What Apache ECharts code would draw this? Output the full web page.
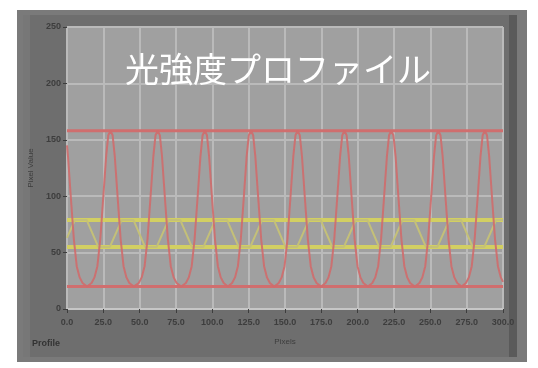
<!DOCTYPE html>
<html>
<head>
<meta charset="utf-8">
<script src="https://cdn.jsdelivr.net/npm/echarts@6/dist/echarts.min.js"></script>
<style>
  html, body { margin: 0; padding: 0; background: #ffffff; }
  #chart { width: 538px; height: 368px; }
</style>
</head>
<body>
<div id="chart"></div>
<script>
// Axis ranges and tick spacing
const xMin = 0, xMax = 300, xStep = 25;
const yMin = 0, yMax = 250, yStep = 50;

// Red intensity profile (position, level)
const redX = [
  0, 0.7, 2.7, 4.7, 6.7, 8.7, 10.7, 13.8,
  16.9, 18.9, 20.9, 22.9, 24.9, 26.9, 28.4, 29.9, 31.4, 32.9, 34.9, 36.9, 38.9, 40.9, 42.9, 46.1,
  49.4, 51.4, 53.4, 55.4, 57.4, 59.4, 60.9, 62.4, 63.9, 65.4, 67.4, 69.4, 71.4, 73.4, 75.4, 78.6,
  81.8, 83.8, 85.8, 87.8, 89.8, 91.8, 93.3, 94.8, 96.3, 97.8, 99.8, 101.8, 103.8, 105.8, 107.8, 110.7,
  113.6, 115.6, 117.6, 119.6, 121.6, 123.6, 125.1, 126.6, 128.1, 129.6, 131.6, 133.6, 135.6, 137.6, 139.6, 142.6,
  145.7, 147.7, 149.7, 151.7, 153.7, 155.7, 157.2, 158.7, 160.2, 161.7, 163.7, 165.7, 167.7, 169.7, 171.7, 174.8,
  177.9, 179.9, 181.9, 183.9, 185.9, 187.9, 189.4, 190.9, 192.4, 193.9, 195.9, 197.9, 199.9, 201.9, 203.9, 207.0,
  210.1, 212.1, 214.1, 216.1, 218.1, 220.1, 221.6, 223.1, 224.6, 226.1, 228.1, 230.1, 232.1, 234.1, 236.1, 239.3,
  242.5, 244.5, 246.5, 248.5, 250.5, 252.5, 254.0, 255.5, 257.0, 258.5, 260.5, 262.5, 264.5, 266.5, 268.5, 271.5,
  274.5, 276.5, 278.5, 280.5, 282.5, 284.5, 286.0, 287.5, 289.0, 290.5, 292.5, 294.5, 296.5, 298.5, 300
];
const redY = [
  145, 135, 98, 62, 38, 28, 23, 20,
  23, 28, 38, 62, 98, 135, 154, 158, 154, 135, 98, 62, 38, 28, 23, 20,
  23, 28, 38, 62, 98, 135, 154, 158, 154, 135, 98, 62, 38, 28, 23, 20,
  23, 28, 38, 62, 98, 135, 154, 158, 154, 135, 98, 62, 38, 28, 23, 20,
  23, 28, 38, 62, 98, 135, 154, 158, 154, 135, 98, 62, 38, 28, 23, 20,
  23, 28, 38, 62, 98, 135, 154, 158, 154, 135, 98, 62, 38, 28, 23, 20,
  23, 28, 38, 62, 98, 135, 154, 158, 154, 135, 98, 62, 38, 28, 23, 20,
  23, 28, 38, 62, 98, 135, 154, 158, 154, 135, 98, 62, 38, 28, 23, 20,
  23, 28, 38, 62, 98, 135, 154, 158, 154, 135, 98, 62, 38, 28, 23, 20,
  23, 28, 38, 62, 98, 135, 154, 158, 154, 135, 98, 62, 38, 28, 24
];

// Yellow intensity profile (position, level)
const yellowX = [
  0, 5.5, 13.5, 21.5, 29.5, 37.7, 45.7, 53.7, 61.7, 69.9, 77.9, 85.9, 93.9,
  102.1, 110.1, 118.1, 126.1, 134.3, 142.3, 150.3, 158.3, 166.5, 174.5, 182.5, 190.5,
  198.7, 206.7, 214.7, 222.7, 230.9, 238.9, 246.9, 254.9, 263.1, 271.1, 279.1, 287.1, 295.3, 300
];
const yellowY = [
  63, 79, 79, 55, 55, 79, 79, 55, 55, 79, 79, 55, 55,
  79, 79, 55, 55, 79, 79, 55, 55, 79, 79, 55, 55,
  79, 79, 55, 55, 79, 79, 55, 55, 79, 79, 55, 55, 79, 79
];

// Max / min level lines of each profile
const redLevels = [158, 20];
const yellowLevels = [79, 55];

const titleText = '光強度プロファイル';
const xName = 'Pixels';
const yName = 'Pixel Value';
const plotName = 'Profile';

const zip = (xs, ys) => xs.map((x, i) => [x, ys[i]]);
const levelLine = (v) => [[xMin, v], [xMax, v]];

const tickFont = { fontFamily: 'Liberation Sans', fontSize: 9, fontWeight: 'bold', color: '#3d3d3d' };

const series = [];
yellowLevels.forEach((v) => series.push({
  type: 'line', data: levelLine(v), showSymbol: false, silent: true,
  lineStyle: { color: '#d2cf62', width: 4 }
}));
series.push({
  type: 'line', data: zip(yellowX, yellowY), showSymbol: false,
  lineStyle: { color: '#c4c078', width: 2 }
});
redLevels.forEach((v) => series.push({
  type: 'line', data: levelLine(v), showSymbol: false, silent: true,
  lineStyle: { color: '#d06e6e', width: 3 }
}));
series.push({
  type: 'line', data: zip(redX, redY), showSymbol: false,
  lineStyle: { color: '#cf6b6b', width: 2, opacity: 0.9 }
});

const chart = echarts.init(document.getElementById('chart'), null, { renderer: 'canvas' });
chart.setOption({
  animation: false,
  backgroundColor: '#ffffff',
  graphic: [
    // instrument panel frame
    { type: 'rect', z: -10, shape: { x: 17, y: 10, width: 510, height: 352 }, style: { fill: '#7a7a7a' } },
    { type: 'rect', z: -9, shape: { x: 23, y: 15, width: 486, height: 342 }, style: { fill: '#6e6e6e' } },
    { type: 'rect', z: -9, shape: { x: 509, y: 15, width: 8, height: 342 }, style: { fill: '#5a5a5a' } },
    { type: 'rect', z: -9, shape: { x: 23, y: 15, width: 7, height: 342 }, style: { fill: '#777777' } },
    { type: 'text', left: 32, top: 339, z: 10,
      style: { text: plotName, fontFamily: 'Liberation Sans', fontSize: 9, fontWeight: 'bold', fill: '#333333' } }
  ],
  title: {
    text: titleText, left: 120, top: 47,
    textStyle: { fontFamily: 'Noto Sans CJK JP', fontSize: 34, fontWeight: 'normal', color: '#ffffff' }
  },
  grid: {
    left: 67, top: 27, width: 436, height: 282, show: true,
    backgroundColor: '#a0a0a0', borderWidth: 0
  },
  xAxis: {
    type: 'value', min: xMin, max: xMax, interval: xStep,
    name: xName, nameLocation: 'middle', nameGap: 29,
    nameTextStyle: { fontFamily: 'Liberation Sans', fontSize: 8, color: '#3d3d3d' },
    axisLine: { show: true, lineStyle: { color: '#c6c6c6', width: 2 } },
    axisTick: { show: true, length: 4, lineStyle: { color: '#3d3d3d' } },
    axisLabel: Object.assign({ margin: 9, formatter: (v) => v.toFixed(1) }, tickFont),
    splitLine: { show: true, lineStyle: { color: '#bababa', width: 2 } }
  },
  yAxis: {
    type: 'value', min: yMin, max: yMax, interval: yStep,
    name: yName, nameLocation: 'middle', nameGap: 30,
    nameTextStyle: { fontFamily: 'Liberation Sans', fontSize: 8, color: '#3d3d3d' },
    axisLine: { show: false },
    axisTick: { show: true, length: 4, lineStyle: { color: '#3d3d3d' } },
    axisLabel: Object.assign({ margin: 6 }, tickFont),
    splitLine: { show: true, lineStyle: { color: '#bababa', width: 2 } }
  },
  series: series
});
</script>
</body>
</html>
